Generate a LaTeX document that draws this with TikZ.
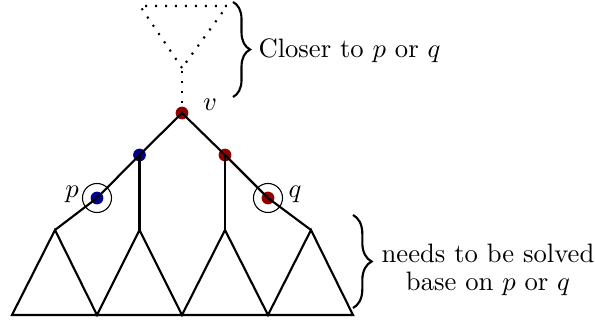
\documentclass[tikz,border=0pt]{standalone}
\usetikzlibrary{decorations.pathreplacing}
\definecolor{dkred}{RGB}{145,0,0}
\definecolor{dkblue}{RGB}{0,0,145}
\begin{document}
\begin{tikzpicture}[x=0.3754pt,y=-0.3754pt,
  tree/.style={line width=0.8pt},
  dotline/.style={line width=0.8pt, dash pattern=on 0.75pt off 3pt},
  reddot/.style={circle, fill=dkred, inner sep=0pt, minimum size=4.8pt},
  bluedot/.style={circle, fill=dkblue, inner sep=0pt, minimum size=4.8pt},
  ring/.style={circle, draw, line width=0.4pt, inner sep=0pt, minimum size=10.9pt},
  bracestyle/.style={decorate, line width=0.8pt},
  lbl/.style={inner sep=0pt}]
\useasboundingbox (0,0) rectangle (595,321);
% bottom vertices and apexes
\coordinate (b0) at (12,315);
\coordinate (b1) at (97,315);
\coordinate (b2) at (182,315);
\coordinate (b3) at (268,315);
\coordinate (b4) at (353,315);
\coordinate (a1) at (55,230);
\coordinate (a2) at (139.5,230);
\coordinate (a3) at (225,230);
\coordinate (a4) at (311,230);
% dotted triangle
\coordinate (t0) at (182,68);
\coordinate (tl) at (140,6);
\coordinate (tr) at (227,6);
% rings
\node[ring] (pr) at (97,198) {};
\node[ring] (qr) at (268,198) {};
% dots
\node[reddot] (v) at (182,113) {};
\node[bluedot] (l) at (139.5,155) {};
\node[reddot] (r) at (225,155) {};
\node[bluedot] (p) at (97,198) {};
\node[reddot] (q) at (268,198) {};
% labels
\node[lbl] (vl) at (210,105) {$v$};
\node[lbl] (pl) at (72,194) {$p$};
\node[lbl] (ql) at (295,194) {$q$};
% tree lines
\draw[tree] (a1) -- (p.center) -- (l.center) -- (v.center) -- (r.center) -- (q.center) -- (a4);
\draw[tree] (l.center) -- (a2);
\draw[tree] (r.center) -- (a3);
\draw[tree] (b0) -- (a1) -- (b1) -- (a2) -- (b2) -- (a3) -- (b3) -- (a4) -- (b4) -- cycle;
% dotted part
\draw[dotline] (v.center) -- (t0);
\draw[dotline] (t0) -- (tl) -- (tr) -- cycle;
% braces
\coordinate (br1a) at (233,2);
\coordinate (br1b) at (233,97);
\coordinate (br2a) at (353,215);
\coordinate (br2b) at (353,308);
\draw[bracestyle, decoration={brace, amplitude=6.4pt}] (br1a) -- (br1b);
\draw[bracestyle, decoration={brace, amplitude=7pt}] (br2a) -- (br2b);
\node[anchor=west, inner sep=0pt] (c1) at (258,51) {Closer to $p$ or $q$};
\node[align=center, inner sep=0pt] (c2) at (488,270) {needs to be solved\\[-1.5pt]base on $p$ or $q$};
\end{tikzpicture}
\end{document}
